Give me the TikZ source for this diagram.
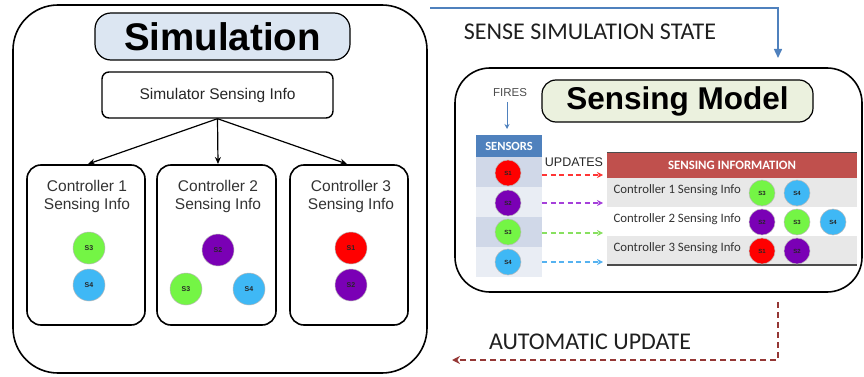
\documentclass[tikz,border=0pt]{standalone}
\usepackage{fontspec}
\setmainfont{Liberation Sans}
\newfontfamily\calib{Carlito}
\usetikzlibrary{arrows.meta}
\definecolor{sgreen}{HTML}{74F545}
\definecolor{sblue}{HTML}{3FB8F5}
\definecolor{spurple}{HTML}{7A00B5}
\definecolor{sred}{HTML}{FF0000}
\definecolor{titleblue}{HTML}{DCE6F2}
\definecolor{titlegreen}{HTML}{EBF1DE}
\definecolor{hdrblue}{HTML}{4F81BD}
\definecolor{rowdark}{HTML}{D0D8E8}
\definecolor{rowlight}{HTML}{E9EDF4}
\definecolor{hdrred}{HTML}{C0504D}
\definecolor{rowgray}{HTML}{E8E8E8}
\definecolor{autored}{HTML}{953735}
\definecolor{dred}{HTML}{FF3535}
\definecolor{dpurple}{HTML}{A540DA}
\definecolor{dgreen}{HTML}{88E060}
\definecolor{dblue}{HTML}{55B2F0}
\tikzset{
  bigbox/.style={draw=black, line width=1.6pt, rectangle, inner sep=0pt},
  ctrlbox/.style={draw=black, line width=1.6pt, rounded corners=14pt, minimum width=118pt, minimum height=160pt, inner sep=0pt},
  ctrltext/.style={font=\fontsize{15.5}{18}\selectfont, text=black!80, align=center},
  scirc/.style={circle, draw=gray!55, line width=0.5pt, minimum size=32pt, inner sep=0pt, font=\bfseries\fontsize{7}{7}\selectfont, text=black!85},
  tcirc/.style={scirc, minimum size=26pt, font=\bfseries\fontsize{6}{6}\selectfont},
  treearrow/.style={-{Stealth[length=7pt,width=6pt]}, line width=1.2pt},
  dasharrow/.style={-{Stealth[length=6pt,width=6pt]}, line width=1.3pt, dash pattern=on 5pt off 3.5pt},
  rowtext/.style={font=\calib\fontsize{12.8}{14}\selectfont, text=black!80, anchor=west},
  cell/.style={rectangle, inner sep=0pt, minimum width=66pt, minimum height=30pt},
  trow/.style={rectangle, inner sep=0pt, minimum width=250pt, minimum height=29pt},
  bigtext/.style={font=\calib\fontsize{24}{27}\selectfont, text=black!88}
}
\begin{document}
\begin{tikzpicture}[x=1pt,y=-1pt]
\useasboundingbox (0,0) rectangle (864,377);

% ---------------- Simulation ----------------
\node[bigbox, rounded corners=45pt, minimum width=414pt, minimum height=368pt] (sim) at (220,189) {};
\node[draw=black, line width=1.2pt, fill=titleblue, rounded corners=16pt, minimum width=255pt, minimum height=47pt, inner sep=0pt,
      font=\bfseries\fontsize{38.5}{40}\selectfont] (simtitle) at (222.5,36.5) {Simulation};
\node[draw=black, line width=1.4pt, rounded corners=7pt, minimum width=231pt, minimum height=46pt, inner sep=0pt,
      font=\fontsize{15.5}{18}\selectfont, text=black!85] (ssi) at (217.5,95) {Simulator Sensing Info};

\node[ctrlbox] (c1) at (86,245) {};
\node[ctrlbox, minimum width=119pt] (c2) at (216.5,245) {};
\node[ctrlbox] (c3) at (349,245) {};
\node[ctrltext] (c1t) at (87,196) {Controller 1\\Sensing Info};
\node[ctrltext] (c2t) at (218,196) {Controller 2\\Sensing Info};
\node[ctrltext] (c3t) at (351,196) {Controller 3\\Sensing Info};

\coordinate (a1) at (88,164);
\coordinate (a2) at (218,164);
\coordinate (a3) at (347,164);
\draw[treearrow] (ssi.south) -- (a1);
\draw[treearrow] (ssi.south) -- (a2);
\draw[treearrow] (ssi.south) -- (a3);

\node[scirc, fill=sgreen] (c1s3) at (89,248) {S3};
\node[scirc, fill=sblue] (c1s4) at (89,285) {S4};
\node[scirc, fill=spurple] (c2s2) at (218,250) {S2};
\node[scirc, fill=sgreen] (c2s3) at (186,289) {S3};
\node[scirc, fill=sblue] (c2s4) at (249,289) {S4};
\node[scirc, fill=sred] (c3s1) at (351,248) {S1};
\node[scirc, fill=spurple] (c3s2) at (351,285) {S2};

% ---------------- Sense simulation state ----------------
\coordinate (bs) at (430,8);
\coordinate (bt) at (778,58);
\draw[hdrblue, line width=1.5pt, -{Triangle[length=9pt,width=8pt]}] (bs) -| (bt);
\node[bigtext] (sss) at (590,32) {SENSE SIMULATION STATE};

% ---------------- Sensing Model ----------------
\node[bigbox, rounded corners=35pt, minimum width=407pt, minimum height=224pt] (sm) at (658.5,180) {};
\node[draw=black, line width=1.2pt, fill=titlegreen, rounded corners=14pt, minimum width=271pt, minimum height=42pt, inner sep=0pt,
      font=\bfseries\fontsize{31.5}{33}\selectfont] (smtitle) at (677.5,101) {Sensing Model};

\node[font=\fontsize{11.5}{12}\selectfont, text=black!70] (fires) at (510,93) {FIRES};
\coordinate (ft) at (507,129);
\draw[hdrblue, line width=1pt, -{Stealth[length=5pt,width=5pt]}] (507,102) -- (ft);

\node[rectangle, fill=hdrblue, minimum width=66pt, minimum height=22pt, inner sep=0pt,
      font=\calib\bfseries\fontsize{12.5}{13}\selectfont, text=white] (sens) at (509,146) {SENSORS};
\node[cell, fill=rowdark] (r1) at (509,172) {};
\node[cell, fill=rowlight] (r2) at (509,202) {};
\node[cell, fill=rowdark] (r3) at (509,232) {};
\node[cell, fill=rowlight] (r4) at (509,262) {};
\node[tcirc, fill=sred] (ss1) at (508,173) {S1};
\node[tcirc, fill=spurple] (ss2) at (508,203) {S2};
\node[tcirc, fill=sgreen] (ss3) at (508,232) {S3};
\node[tcirc, fill=sblue] (ss4) at (508,262) {S4};

\node[font=\fontsize{12.5}{13}\selectfont, text=black!85] (upd) at (574,162) {UPDATES};

% table
\node[rectangle, fill=hdrred, minimum width=250pt, minimum height=25pt, inner sep=0pt,
      font=\calib\bfseries\fontsize{12.8}{13}\selectfont, text=white] (si) at (732,165.5) {SENSING INFORMATION};
\draw[black!70, line width=1.2pt] (si.north west) -- (si.north east);
\node[trow, fill=rowgray] (t1) at (732,192.5) {};
\node[trow, fill=white] (t2) at (732,221.5) {};
\node[trow, fill=rowgray] (t3) at (732,250.5) {};
\draw[black!70, line width=1.6pt] (t3.south west) -- (t3.south east);
\node[rowtext] (t1t) at (610,190) {Controller 1 Sensing Info};
\node[rowtext] (t2t) at (610,219) {Controller 2 Sensing Info};
\node[rowtext] (t3t) at (610,248) {Controller 3 Sensing Info};

\node[tcirc, fill=sgreen] (t1s3) at (762,193) {S3};
\node[tcirc, fill=sblue] (t1s4) at (797,193) {S4};
\node[tcirc, fill=spurple] (t2s2) at (762,222) {S2};
\node[tcirc, fill=sgreen] (t2s3) at (797,222) {S3};
\node[tcirc, fill=sblue] (t2s4) at (833,222) {S4};
\node[tcirc, fill=sred] (t3s1) at (762,251) {S1};
\node[tcirc, fill=spurple] (t3s2) at (797,251) {S2};

\coordinate (d1) at (603,175);
\coordinate (d2) at (603,203);
\coordinate (d3) at (603,233);
\coordinate (d4) at (603,262);
\draw[dasharrow, dred] (r1.east |- d1) -- (d1);
\draw[dasharrow, dpurple] (r2.east |- d2) -- (d2);
\draw[dasharrow, dgreen] (r3.east |- d3) -- (d3);
\draw[dasharrow, dblue] (r4.east |- d4) -- (d4);

% ---------------- Automatic update ----------------
\coordinate (as) at (778,302);
\coordinate (ae) at (452,360);
\draw[autored, line width=1.6pt, dash pattern=on 6pt off 4pt, -{Stealth[length=8pt,width=8pt]}] (as) |- (ae);
\node[bigtext] (au) at (590,342) {AUTOMATIC UPDATE};
\end{tikzpicture}
\end{document}
